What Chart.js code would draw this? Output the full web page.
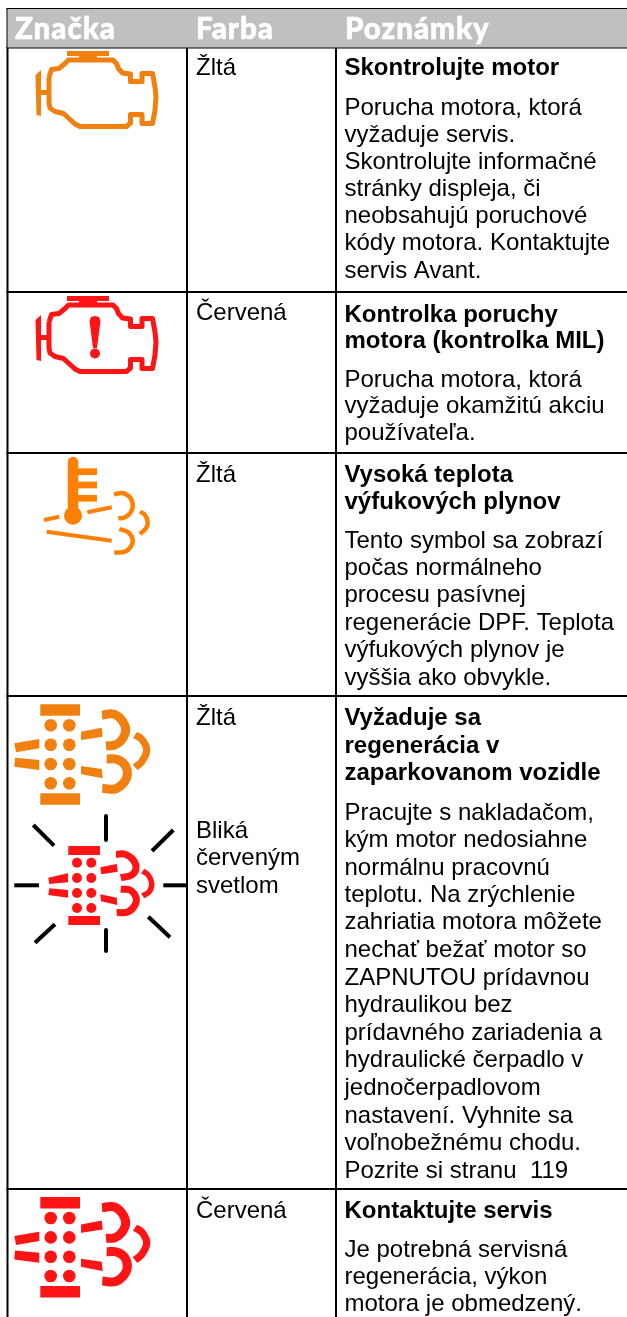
<!DOCTYPE html>
<html lang="sk">
<head>
<meta charset="utf-8">
<title>Kontrolky</title>
<script src="https://cdn.jsdelivr.net/npm/chart.js@4"></script>
<style>
  html, body { margin: 0; padding: 0; background: #fff; }
  canvas { display: block; }
</style>
</head>
<body>
<canvas id="tableChart" width="627" height="1317"></canvas>
<script>
// table grid
const colLines = [7.5, 187, 336];
const rowLines = [9, 47.5, 292, 453, 696, 1189];

// header
const headerLabels = ['Značka', 'Farba', 'Poznámky'];
const headerX = [15, 196, 345];

// colour column
const colorLabels = ['Žltá', 'Červená', 'Žltá', 'Žltá', 'Bliká', 'červeným', 'svetlom', 'Červená'];
const colorY = [75, 320, 482, 725, 838, 865, 893, 1218];

// notes column
const noteLines = [
  'Skontrolujte motor', 'Porucha motora, ktorá', 'vyžaduje servis.', 'Skontrolujte informačné',
  'stránky displeja, či', 'neobsahujú poruchové', 'kódy motora. Kontaktujte', 'servis Avant.',
  'Kontrolka poruchy', 'motora (kontrolka MIL)', 'Porucha motora, ktorá', 'vyžaduje okamžitú akciu', 'používateľa.',
  'Vysoká teplota', 'výfukových plynov', 'Tento symbol sa zobrazí', 'počas normálneho', 'procesu pasívnej',
  'regenerácie DPF. Teplota', 'výfukových plynov je', 'vyššia ako obvykle.',
  'Vyžaduje sa', 'regenerácia v', 'zaparkovanom vozidle', 'Pracujte s nakladačom,', 'kým motor nedosiahne',
  'normálnu pracovnú', 'teplotu. Na zrýchlenie', 'zahriatia motora môžete', 'nechať bežať motor so',
  'ZAPNUTOU prídavnou', 'hydraulikou bez', 'prídavného zariadenia a', 'hydraulické čerpadlo v',
  'jednočerpadlovom', 'nastavení. Vyhnite sa', 'voľnobežnému chodu.', 'Pozrite si stranu  119',
  'Kontaktujte servis', 'Je potrebná servisná', 'regenerácia, výkon', 'motora je obmedzený.'
];
const noteY = [
  75, 115, 142, 169, 196, 223, 250, 278,
  322, 348, 387, 413, 440,
  482, 509, 548, 575, 602, 630, 657, 685,
  725, 753, 780, 820, 847, 875, 902, 929, 957, 985, 1012, 1040, 1067, 1095, 1123, 1150, 1178,
  1218, 1257, 1284, 1311
];
const boldNotes = [0, 8, 9, 13, 14, 21, 22, 23, 38];

// engine symbol
const engineBody = [[49,77],[51.5,69.5],[59,68.5],[65,63.5],[68.5,60],[113,60],[116.5,63.5],[118.5,68.5],[122.5,73],
  [130.5,74],[130.5,81.5],[142,81.5],[142,73.5],[152.5,73.5],[155,87],[156,97],[155,110],[152.5,123.5],[142,123.5],
  [142,114.5],[130.5,114.5],[130.5,123],[126.5,126.5],[80,126.5],[75,124],[63.5,113.5],[55,111.5],[50,108],[49,103],[49,77]];
const engineCap = [[67,51],[109,51],[109,56],[97,56],[97,60],[79,60],[79,56],[67,56],[67,51]];
const engineLever = [[35.5,75],[41,70],[41,90],[49,90],[49,95],[41,95],[41,116],[36.5,115],[35.5,75]];
const warnBang = [[89.5,321],[91,317],[95,316],[99,317],[100.5,321],[97,348],[93,348],[89.5,321]];
const warnDot = [[95,353.5]];

// exhaust temperature symbol
const thermoStem = [[73,462],[73,515]];
const thermoBulb = [[73,515.7]];
const thermoTicks = [[[78,471.7],[97,471.7]], [[78,485],[97,485]], [[78,498.3],[97,498.3]]];
const thermoDashes = [[[44,520],[59.3,516.7]], [[87.3,512.3],[111.7,507.3]], [[46.7,531.7],[111.7,540.7]]];
const thermoArcs = [
  [[114,494.3],[123.3,493.3],[130.7,498.3],[132.7,506.7],[130,513.3],[124,517.7],[118.3,518.3]],
  [[119.3,529],[128.3,532.3],[132.7,540],[130.7,546.7],[125,551.7],[114.3,552.7]],
  [[140,511.7],[145,515],[147.7,522.3],[146,528.3],[140,534]]
];

// particle filter symbol, large
const dpfBars = [[[40.3,704.3],[80,704.3],[80,715.7],[40.3,715.7],[40.3,704.3]], [[40.3,793.3],[80,793.3],[80,804.7],[40.3,804.7],[40.3,793.3]]];
const dpfDots = [[50.7,725.3],[69.3,725.3],[50.7,744.7],[69.3,744.7],[50.7,764],[69.3,764],[50.7,783.3],[69.3,783.3]];
const dpfDashes = [
  [[14.3,743.3],[39.3,739],[39.3,748.3],[16,752.3],[14.3,743.3]],
  [[15,757.7],[39.3,760],[39.3,770],[14.3,766.7],[15,757.7]],
  [[81,731.7],[101.7,727.7],[102.7,736.7],[81.7,740],[81,731.7]],
  [[81,766],[101.7,769],[102.7,778.3],[81.7,774.3],[81,766]]
];
const dpfArcs = [
  [[102,715],[113.3,714],[121.7,720],[125.7,730],[121.7,740],[115,745],[106,745.7]],
  [[106.7,759],[116.7,759.3],[125,765],[127.3,775],[123.3,783.3],[115,789],[102.3,788.3]]
];
const dpfOuterArc = [[135,735],[141.7,739.3],[146.7,750],[141.7,761.7],[135,767.3]];

// particle filter symbol, small (blinking)
const miniBars = [[[68.3,846],[100,846],[100,855],[68.3,855],[68.3,846]], [[68.3,916],[100,916],[100,925],[68.3,925],[68.3,916]]];
const miniDots = [[77,862.7],[91.3,862.7],[77,878],[91.3,878],[77,893],[91.3,893],[77,908],[91.3,908]];
const miniDashes = [
  [[48.3,877.7],[68,873.3],[68,882.3],[49.3,884],[48.3,877.7]],
  [[49.3,888.3],[68,890],[68,897.7],[48.3,895],[49.3,888.3]],
  [[100.3,867.3],[116.7,864],[117.7,871.7],[101.3,874.3],[100.3,867.3]],
  [[100.3,894.3],[116.7,897.7],[117.3,905],[101,901.3],[100.3,894.3]]
];
const miniArcs = [
  [[116,854.3],[125,854.3],[133.3,860],[136,868.3],[131.7,875],[120.7,877.7]],
  [[120.7,889.3],[130,890],[136,897.3],[135,905],[128.3,911.7],[116.7,912.7]]
];
const miniOuterArc = [[142.7,871],[148.3,875],[151.7,883.3],[149.3,891.7],[142.7,896]];
const rays = [
  [[106,816],[106,840]], [[33.3,825],[54,845.7]], [[173.3,830],[152,851]], [[14.3,885.3],[39,885.3]],
  [[163.3,885.3],[187,885.3]], [[55,924.3],[35,942.7]], [[106,930],[106,951]], [[148.3,916.7],[170,937.3]]
];

const ORANGE = '#f08010';
const AMBER  = '#ff8000';
const RED    = '#fe1414';
const ENGINE_SHIFT = 245;
const DPF_SHIFT    = 492.7;

const pts = (arr, dy = 0) => arr.map(p => ({ x: p[0], y: p[1] + dy }));

function stroke(arr, color, width, opts = {}) {
  return {
    showLine: true, data: pts(arr, opts.dy), borderColor: color, borderWidth: width,
    borderCapStyle: opts.cap || 'butt', borderJoinStyle: 'round',
    tension: opts.tension || 0, pointRadius: 0, fill: false
  };
}
function filled(arr, color, dy) {
  return { showLine: true, data: pts(arr, dy), borderWidth: 0, backgroundColor: color, pointRadius: 0, fill: 'shape' };
}
function dots(arr, color, r, dy) {
  return { showLine: false, data: pts(arr, dy), pointRadius: r, pointBorderWidth: 0, pointBackgroundColor: color };
}

function engine(color, dy) {
  return [stroke(engineBody, color, 5, { dy }), filled(engineCap, color, dy), filled(engineLever, color, dy)];
}
function dpf(color, dy) {
  return [
    ...dpfBars.map(b => filled(b, color, dy)),
    dots(dpfDots, color, 6.3, dy),
    ...dpfDashes.map(d => filled(d, color, dy)),
    ...dpfArcs.map(a => stroke(a, color, 9, { dy, tension: 0.4 })),
    stroke(dpfOuterArc, color, 7.3, { dy, tension: 0.4 })
  ];
}

const headerBand = [[colLines[0], rowLines[0]], [627, rowLines[0]], [627, rowLines[1]], [colLines[0], rowLines[1]], [colLines[0], rowLines[0]]];

const datasets = [
  filled(headerBand, '#c0c0c0'),
  ...rowLines.map(y => stroke([[colLines[0] - 1, y], [627, y]], '#000', 2)),
  ...colLines.map(x => stroke([[x, rowLines[0]], [x, 1317]], '#000', 2)),
  ...engine(ORANGE),
  ...engine(RED, ENGINE_SHIFT),
  filled(warnBang, RED),
  dots(warnDot, RED, 5),
  stroke(thermoStem, AMBER, 10.5, { cap: 'round' }),
  dots(thermoBulb, AMBER, 9),
  ...thermoTicks.map(t => stroke(t, AMBER, 6.7)),
  ...thermoDashes.map(d => stroke(d, AMBER, 4)),
  ...thermoArcs.map(a => stroke(a, AMBER, 4.5, { tension: 0.4 })),
  ...dpf(ORANGE),
  ...dpf(RED, DPF_SHIFT),
  ...miniBars.map(b => filled(b, RED)),
  dots(miniDots, RED, 5),
  ...miniDashes.map(d => filled(d, RED)),
  ...miniArcs.map(a => stroke(a, RED, 7, { tension: 0.4 })),
  stroke(miniOuterArc, RED, 5.5, { tension: 0.4 }),
  ...rays.map(r => stroke(r, '#000', 4))
];

// table text goes through the same scales as the marks
const tableText = {
  id: 'tableText',
  afterDatasetsDraw(chart) {
    const { ctx: c, scales: { x, y } } = chart;
    c.save();
    c.textBaseline = 'alphabetic';
    c.fillStyle = '#fff';
    c.strokeStyle = '#fff';
    c.lineWidth = 0.6;
    c.font = "900 29.5px Lato";
    c.letterSpacing = '1px';
    headerLabels.forEach((t, i) => {
      c.fillText(t, x.getPixelForValue(headerX[i]), y.getPixelForValue(39));
      c.strokeText(t, x.getPixelForValue(headerX[i]), y.getPixelForValue(39));
    });
    c.letterSpacing = '0px';
    c.fillStyle = '#000';
    c.font = "24px 'Liberation Sans'";
    colorLabels.forEach((t, i) => c.fillText(t, x.getPixelForValue(196), y.getPixelForValue(colorY[i])));
    noteLines.forEach((t, i) => {
      c.font = (boldNotes.includes(i) ? 'bold ' : '') + "24px 'Liberation Sans'";
      c.fillText(t, x.getPixelForValue(344.5), y.getPixelForValue(noteY[i]));
    });
    c.restore();
  }
};

new Chart(document.getElementById('tableChart'), {
  type: 'scatter',
  plugins: [tableText],
  data: { datasets },
  options: {
    responsive: false,
    animation: false,
    layout: { padding: 0, autoPadding: false },
    plugins: { legend: { display: false }, tooltip: { enabled: false } },
    scales: {
      x: { type: 'linear', min: 0, max: 627, display: false },
      y: { type: 'linear', min: 0, max: 1317, reverse: true, display: false }
    }
  }
});
</script>
</body>
</html>
